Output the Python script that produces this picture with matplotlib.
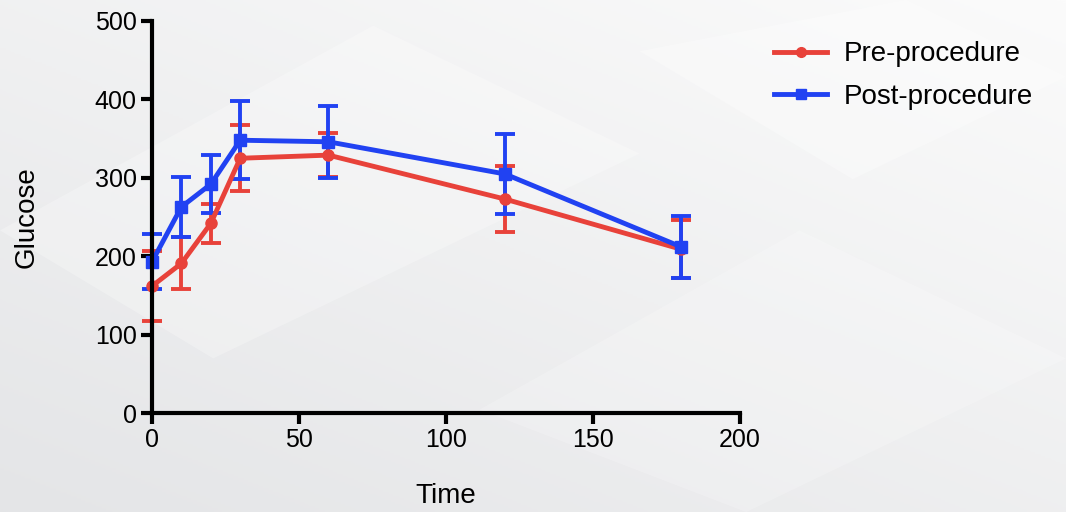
import numpy as np
import matplotlib.pyplot as plt
from matplotlib.colors import LinearSegmentedColormap
from matplotlib.lines import Line2D

# %% Data
time_min = [0, 10, 20, 30, 60, 120, 180]
pre_mean = [162, 191, 242, 325, 329, 273, 209]
pre_err = [45, 33, 25, 42, 28, 42, 37]
post_mean = [193, 263, 292, 348, 346, 305, 212]
post_err = [35, 38, 37, 50, 46, 51, 40]

red = "#e8423a"
blue = "#2142f2"

plt.rcParams["font.family"] = ["Liberation Sans", "DejaVu Sans"]

fig = plt.figure(figsize=(10.66, 5.12), dpi=100)

# soft grey slide background
bg = fig.add_axes([0, 0, 1, 1], zorder=-10)
yy, xx = np.mgrid[0:1:256j, 0:1:512j]
shade = 0.55 * yy + 0.45 * xx
cmap = LinearSegmentedColormap.from_list("bg", ["#e4e5e7", "#fbfbfb"])
bg.imshow(shade, cmap=cmap, extent=[0, 1, 0, 1], origin="lower", aspect="auto")
for pts, a in [([(0.0, 0.55), (0.35, 0.95), (0.6, 0.7), (0.2, 0.3)], 0.25),
               ([(0.45, 0.2), (0.75, 0.55), (1.0, 0.3), (0.7, 0.0)], 0.2),
               ([(0.6, 0.9), (0.85, 1.0), (1.0, 0.85), (0.8, 0.65)], 0.3)]:
    bg.add_patch(plt.Polygon(pts, color="white", alpha=a, lw=0))
bg.set_xlim(0, 1)
bg.set_ylim(0, 1)
bg.axis("off")

ax = fig.add_axes([0.1426, 0.193, 0.5516, 0.766])
ax.patch.set_alpha(0)

for mean, err, c, m, ms in [(pre_mean, pre_err, red, "o", 8),
                            (post_mean, post_err, blue, "s", 9)]:
    eb = ax.errorbar(time_min, mean, yerr=err, color=c, lw=3.5, marker=m, ms=ms,
                     capsize=7, capthick=2.8, elinewidth=2.8)
    for art in eb.get_children():
        art.set_clip_on(False)

ax.set_xlim(0, 200)
ax.set_ylim(0, 500)
ax.set_xticks([0, 50, 100, 150, 200])
ax.set_yticks([0, 100, 200, 300, 400, 500])
for s in ["top", "right"]:
    ax.spines[s].set_visible(False)
for s in ["left", "bottom"]:
    ax.spines[s].set_linewidth(3)
ax.tick_params(width=3, length=8, labelsize=18, pad=3)
ax.set_xlabel("Time", fontsize=20, labelpad=22)
ax.set_ylabel("Glucose", fontsize=20, labelpad=40)

handles = [Line2D([], [], color=red, lw=3.5, marker="o", ms=7),
           Line2D([], [], color=blue, lw=3.5, marker="s", ms=7)]
fig.legend(handles, ["Pre-procedure", "Post-procedure"], loc="upper left",
           bbox_to_anchor=(0.703, 0.968), frameon=False, fontsize=20,
           handlelength=1.9, handletextpad=0.6, labelspacing=0.6)

fig.savefig("out.png", dpi=100)
